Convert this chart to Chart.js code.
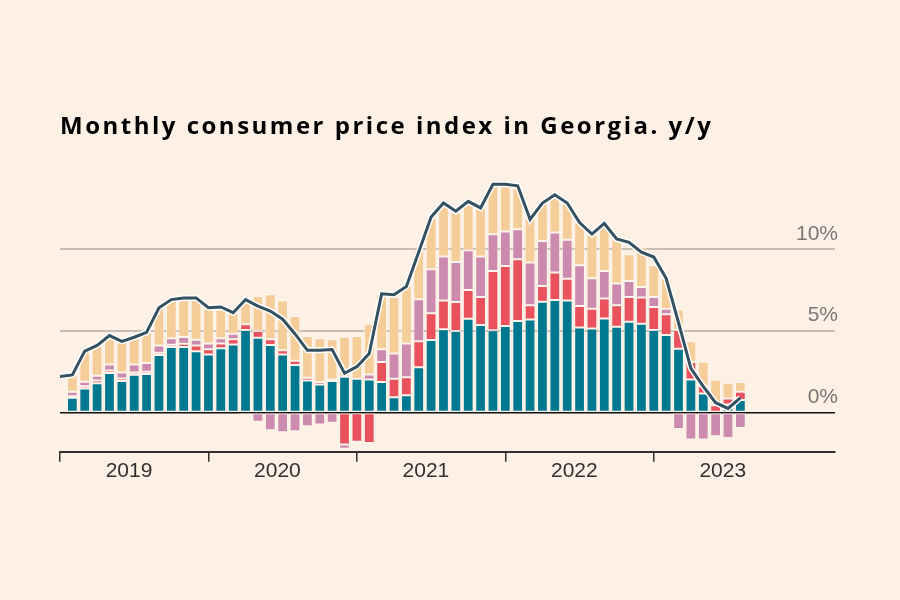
<!DOCTYPE html>
<html>
<head>
<meta charset="utf-8">
<script src="https://cdn.jsdelivr.net/npm/chart.js@4.4.1/dist/chart.umd.min.js"></script>
<style>
  html, body { margin: 0; padding: 0; background: #fdf1e6; }
  #wrap { position: relative; width: 900px; height: 600px; }
  canvas { display: block; }
  #title {
    position: absolute; left: 60px; top: 113px;
    font-family: "Open Sans", sans-serif; font-weight: 700;
    font-size: 24px; line-height: 24px; letter-spacing: 2.5px;
    color: #000; white-space: nowrap;
  }
</style>
</head>
<body>
<div id="wrap">
  <canvas id="cpi-chart" width="900" height="600"></canvas>
  <div id="title">Monthly consumer price index in Georgia. y/y</div>
</div>
<script>
// Months, Jan 2019 - Aug 2023 (x position = index in this list)
const months = [
    'Jan 2019', 'Feb 2019', 'Mar 2019', 'Apr 2019', 'May 2019', 'Jun 2019', 'Jul 2019', 'Aug 2019', 'Sep 2019', 'Oct 2019', 'Nov 2019', 'Dec 2019',
    'Jan 2020', 'Feb 2020', 'Mar 2020', 'Apr 2020', 'May 2020', 'Jun 2020', 'Jul 2020', 'Aug 2020', 'Sep 2020', 'Oct 2020', 'Nov 2020', 'Dec 2020',
    'Jan 2021', 'Feb 2021', 'Mar 2021', 'Apr 2021', 'May 2021', 'Jun 2021', 'Jul 2021', 'Aug 2021', 'Sep 2021', 'Oct 2021', 'Nov 2021', 'Dec 2021',
    'Jan 2022', 'Feb 2022', 'Mar 2022', 'Apr 2022', 'May 2022', 'Jun 2022', 'Jul 2022', 'Aug 2022', 'Sep 2022', 'Oct 2022', 'Nov 2022', 'Dec 2022',
    'Jan 2023', 'Feb 2023', 'Mar 2023', 'Apr 2023', 'May 2023', 'Jun 2023', 'Jul 2023', 'Aug 2023'
];

// Headline CPI, % y/y
const headline = [
    2.2, 2.3, 3.75, 4.1, 4.7, 4.35, 4.6, 4.9, 6.4, 6.9, 7.0, 7.0,
    6.4, 6.45, 6.1, 6.9, 6.5, 6.2, 5.7, 4.8, 3.8, 3.8, 3.85, 2.4,
    2.8, 3.6, 7.25, 7.2, 7.7, 9.8, 11.95, 12.8, 12.3, 12.9, 12.5, 13.95,
    13.95, 13.85, 11.8, 12.8, 13.3, 12.8, 11.6, 10.9, 11.55, 10.6, 10.4, 9.8,
    9.5, 8.2, 5.5, 2.7, 1.6, 0.6, 0.25, 0.9
];

// Contributions (pp), no breakdown for the first month
const tealPart = [
    null, 0.9, 1.47, 1.79, 2.41, 1.92, 2.31, 2.35, 3.51, 4.0, 4.0, 3.75,
    3.55, 3.92, 4.16, 5.04, 4.57, 4.12, 3.55, 2.9, 1.96, 1.71, 1.92, 2.18,
    2.06, 2.02, 1.86, 0.94, 1.06, 2.77, 4.43, 5.08, 4.98, 5.73, 5.34, 5.02,
    5.28, 5.59, 5.69, 6.77, 6.87, 6.85, 5.2, 5.14, 5.75, 5.24, 5.55, 5.43,
    5.04, 4.73, 3.9, 2.02, 1.16, 0, 0.49, 0.76
];
const redPart = [
    null, 0.1, 0.14, 0.17, 0.16, 0.16, 0.14, 0.14, 0.14, 0.14, 0.2, 0.35,
    0.31, 0.3, 0.31, 0.35, 0.41, 0.35, 0.26, 0.26, 0.16, 0.15, 0.1, -1.96,
    -1.78, -1.86, 1.22, 1.12, 1.1, 1.59, 1.63, 1.77, 1.77, 1.75, 1.72, 3.63,
    3.67, 3.77, 0.86, 0.96, 1.68, 1.33, 1.31, 1.2, 1.21, 1.31, 1.51, 1.59,
    1.41, 1.27, 1.14, 1.06, 0.45, 0.45, 0.37, 0.51
];
const pinkPart = [
    null, 0.27, 0.27, 0.28, 0.37, 0.37, 0.49, 0.53, 0.45, 0.39, 0.41, 0.35,
    0.36, 0.31, 0.34, -0.1, -0.57, -1.08, -1.2, -1.14, -0.84, -0.73, -0.63, -0.26,
    -0.08, 0.31, 0.78, 1.55, 2.06, 2.56, 2.69, 2.68, 2.45, 2.43, 2.47, 2.24,
    2.11, 1.84, 2.61, 2.75, 2.45, 2.37, 2.49, 1.86, 1.69, 1.34, 0.98, 0.65,
    0.61, 0.34, -1.0, -1.65, -1.65, -1.45, -1.55, -0.94
];
const tanPart = [
    null, 1.0, 1.81, 1.82, 1.71, 1.85, 1.63, 1.9, 2.25, 2.28, 2.31, 2.45,
    2.15, 1.77, 1.29, 1.57, 2.14, 2.75, 3.04, 2.74, 2.55, 2.67, 2.45, 2.45,
    2.61, 3.1, 3.36, 3.47, 3.51, 2.99, 3.16, 3.3, 3.02, 2.82, 2.99, 3.06,
    2.79, 2.55, 2.69, 2.35, 2.14, 2.28, 2.61, 2.69, 2.9, 2.7, 1.63, 2.4,
    1.94, 1.84, 1.26, 1.28, 1.49, 1.55, 0.96, 0.59
];

// Axis ticks
const yearTicks = [0, 12, 24, 36, 48];
const yearLabels = ['2019', '2020', '2021', '2022', '2023'];
const pctTicks = [0, 5, 10];

const toPoints = arr => arr.map((v, i) => ({ x: i, y: v }));

const barStyle = {
    type: 'bar',
    stack: 'parts',
    order: 2,
    barPercentage: 1,
    categoryPercentage: 0.87,
    borderWidth: 1,
    borderColor: 'rgba(255, 250, 244, 0.55)',
    borderSkipped: false
};

const labelFont = { family: '"Liberation Sans", Arial, sans-serif', size: 21 };

const ctx = document.getElementById('cpi-chart').getContext('2d');
new Chart(ctx, {
    data: {
        labels: months,
        datasets: [
            {
                type: 'line', label: 'CPI y/y', data: toPoints(headline), stack: 'line', order: 0,
                borderColor: '#35505f', borderWidth: 3, pointRadius: 0, tension: 0
            },
            {
                type: 'line', label: 'halo', data: toPoints(headline), stack: 'halo', order: 1,
                borderColor: '#ffffff', borderWidth: 6, pointRadius: 0, tension: 0
            },
            { ...barStyle, label: 'teal', data: toPoints(tealPart), backgroundColor: '#00788f' },
            { ...barStyle, label: 'red', data: toPoints(redPart), backgroundColor: '#e9515c' },
            { ...barStyle, label: 'pink', data: toPoints(pinkPart), backgroundColor: '#cc8aae' },
            { ...barStyle, label: 'tan', data: toPoints(tanPart), backgroundColor: '#f5cd98' }
        ]
    },
    options: {
        responsive: false,
        animation: false,
        layout: { padding: { left: 60, right: 59, top: 167, bottom: 119 } },
        plugins: {
            legend: { display: false },
            tooltip: { enabled: false },
            title: { display: false }
        },
        scales: {
            x: {
                type: 'linear',
                min: 0,
                max: 62.65,
                stacked: true,
                offset: false,
                afterBuildTicks: scale => { scale.ticks = yearTicks.map(v => ({ value: v })); },
                grid: {
                    offset: false,
                    drawOnChartArea: false,
                    drawTicks: true,
                    tickLength: 10,
                    color: '#33302e',
                    lineWidth: 1.5
                },
                border: { display: true, color: '#33302e', width: 2 },
                ticks: {
                    autoSkip: false,
                    maxRotation: 0,
                    labelOffset: 69,
                    padding: -3,
                    color: '#33302e',
                    font: labelFont,
                    callback: (value, index) => yearLabels[index]
                }
            },
            y: {
                position: 'right',
                stacked: true,
                min: -2.4,
                max: 15,
                z: 1,
                afterBuildTicks: scale => { scale.ticks = pctTicks.map(v => ({ value: v })); },
                grid: {
                    drawTicks: false,
                    color: c => c.tick.value === 0 ? '#111111' : 'rgba(150, 140, 132, 0.5)',
                    lineWidth: c => c.tick.value === 0 ? 1.5 : 2
                },
                border: { display: false },
                ticks: {
                    mirror: true,
                    padding: 3,
                    labelOffset: -15,
                    color: '#7b7673',
                    font: labelFont,
                    callback: value => value + '%'
                }
            }
        }
    }
});
</script>
</body>
</html>
